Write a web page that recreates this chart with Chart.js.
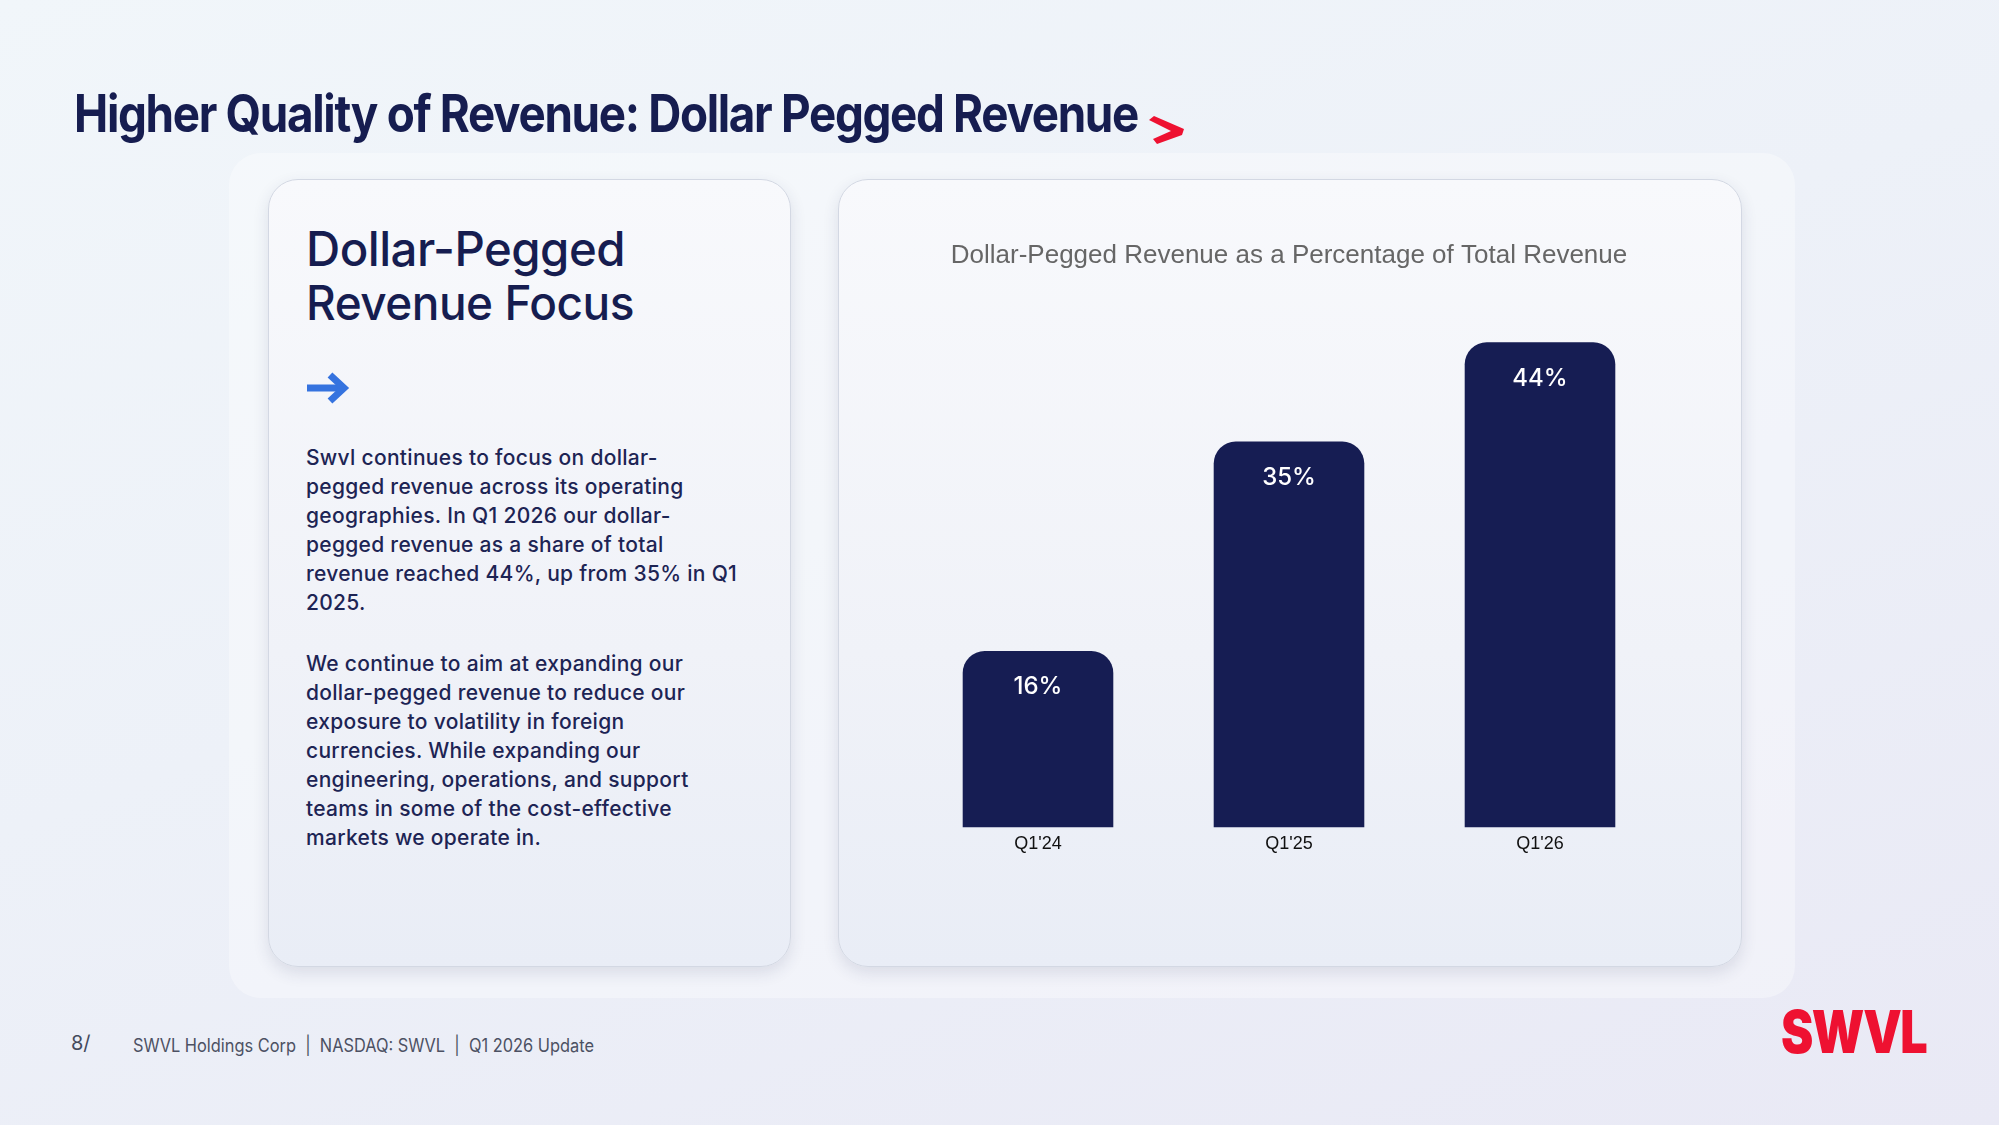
<!DOCTYPE html>
<html lang="en">
<head>
    <meta charset="UTF-8">
    <title>Dollar Pegged Revenue</title>
    <script src="https://cdn.jsdelivr.net/npm/chart.js"></script>
    <style>
        html, body { margin: 0; padding: 0; }
        body {
            width: 1999px; height: 1125px; position: relative; overflow: hidden;
            background: linear-gradient(160deg, #f1f6fa 0%, #edf1f8 45%, #e9e9f5 100%);
            font-family: Inter, "Noto Sans", sans-serif;
        }
        .abs { position: absolute; white-space: nowrap; line-height: 1; }
        .fit { transform-origin: left top; display: inline-block; }
        #title { left: 74px; top: 88px; font-size: 52px; font-weight: 700; color: #161d50; letter-spacing: -1.5px; }
        #chev { position: absolute; left: 1148px; top: 115px; }
        .panel {
            position: absolute; left: 229px; top: 153px; width: 1566px; height: 845px;
            border-radius: 32px; background: rgba(255,255,255,0.35);
        }
        .card {
            position: absolute; top: 179px; height: 788px; border-radius: 30px;
            background: linear-gradient(180deg, #f8f9fc 0%, #f0f2f8 60%, #e9edf6 100%);
            border: 1px solid #d3d8e3;
            box-shadow: 0 6px 16px rgba(40,50,90,0.12);
            box-sizing: border-box;
        }
        #leftCard { left: 268px; width: 523px; }
        #rightCard { left: 838px; width: 904px; }
        #heading { left: 306px; top: 222px; font-size: 48px; font-weight: 500; line-height: 54px; color: #161d50; letter-spacing: -0.5px; }
        #arrow { position: absolute; left: 306px; top: 371px; }
        #body { left: 306px; top: 443px; font-size: 21px; font-weight: 500; line-height: 29px; color: #1d2454; letter-spacing: 0.3px; }
        #body p { margin: 0 0 32px 0; }
        #pg { left: 71px; top: 1033px; font-size: 20px; color: #444a5c; }
        #foot { left: 133px; top: 1037px; font-size: 18px; color: #4c5163; }
        #logo { left: 1781px; top: 1002px; font-size: 59px; font-weight: 900; color: #ee1131; letter-spacing: -2px; }
        #chartBox { position: absolute; left: 839px; top: 180px; width: 902px; height: 786px; }
    </style>
</head>
<body>
    <div class="abs" id="title"><span class="fit" data-w="1064">Higher Quality of Revenue: Dollar Pegged Revenue</span></div>
    <svg id="chev" width="38" height="30" viewBox="0 0 38 30">
        <polygon points="1,5 6,1 36,14 34,20 9,29 5,24 23,16" fill="#ee1131"/>
    </svg>

    <div class="panel"></div>
    <div class="card" id="leftCard"></div>
    <div class="card" id="rightCard"></div>

    <div class="abs" id="heading"><span class="fit" data-w="319">Dollar-Pegged</span><br><span class="fit" data-w="328">Revenue Focus</span></div>

    <svg id="arrow" width="44" height="34" viewBox="0 0 44 34">
        <line x1="1" y1="17" x2="36" y2="17" stroke="#3573df" stroke-width="7"/>
        <polyline points="24,4 38,17 24,30" fill="none" stroke="#3573df" stroke-width="7"/>
    </svg>

    <div class="abs" id="body">
        <p>Swvl continues to focus on dollar-<br>pegged revenue across its operating<br>geographies. In Q1 2026 our dollar-<br>pegged revenue as a share of total<br>revenue reached 44%, up from 35% in Q1<br>2025.</p>
        <p>We continue to aim at expanding our<br>dollar-pegged revenue to reduce our<br>exposure to volatility in foreign<br>currencies. While expanding our<br>engineering, operations, and support<br>teams in some of the cost-effective<br>markets we operate in.</p>
    </div>

    <div class="chart-container" id="chartBox">
        <canvas id="revChart"></canvas>
    </div>

    <div class="abs" id="pg">8/</div>
    <div class="abs" id="foot"><span class="fit" data-w="461">SWVL Holdings Corp &nbsp;|&nbsp; NASDAQ: SWVL &nbsp;|&nbsp; Q1 2026 Update</span></div>
    <div class="abs" id="logo"><span class="fit" data-w="145">SWVL</span></div>

    <script>
        const quarters = ["Q1'24", "Q1'25", "Q1'26"];
        const peggedShare = [16, 35, 44];
        const chartTitle = 'Dollar-Pegged Revenue as a Percentage of Total Revenue';

        // squeeze text to the widths seen in the slide
        document.querySelectorAll('.fit').forEach(function(el) {
            const target = parseFloat(el.dataset.w);
            const w = el.getBoundingClientRect().width;
            if (w > 0) el.style.transform = 'scaleX(' + (target / w) + ')';
        });

        const barLabels = {
            id: 'barLabels',
            afterDatasetsDraw(chart) {
                const ctx = chart.ctx;
                const meta = chart.getDatasetMeta(0);
                ctx.save();
                ctx.fillStyle = '#ffffff';
                ctx.font = '500 24px Inter, sans-serif';
                ctx.textAlign = 'center';
                ctx.textBaseline = 'middle';
                meta.data.forEach(function(bar, i) {
                    ctx.fillText(peggedShare[i] + '%', bar.x, bar.y + 36);
                });
                ctx.restore();
            }
        };

        new Chart(document.getElementById('revChart'), {
            type: 'bar',
            data: {
                labels: quarters,
                datasets: [{
                    data: peggedShare,
                    backgroundColor: '#161d53',
                    borderRadius: { topLeft: 22, topRight: 22, bottomLeft: 0, bottomRight: 0 },
                    borderSkipped: 'bottom',
                    barPercentage: 0.6,
                    categoryPercentage: 1.0
                }]
            },
            options: {
                responsive: true,
                maintainAspectRatio: false,
                animation: false,
                devicePixelRatio: 1,
                layout: { padding: { left: 73.5, right: 75.5, top: 0, bottom: 105 } },
                plugins: {
                    legend: { display: false },
                    tooltip: { enabled: false },
                    title: {
                        display: true,
                        text: chartTitle,
                        color: '#666666',
                        font: { family: '"Liberation Sans", Arial, sans-serif', size: 26, weight: 'normal' },
                        padding: { top: 60, bottom: 5 }
                    }
                },
                scales: {
                    x: {
                        grid: { display: false, drawTicks: false },
                        border: { display: false },
                        ticks: {
                            color: '#111111',
                            padding: 6,
                            font: { family: '"Liberation Sans", Arial, sans-serif', size: 18 }
                        }
                    },
                    y: { display: false, min: 0, max: 50 }
                }
            },
            plugins: [barLabels]
        });
    </script>
</body>
</html>
